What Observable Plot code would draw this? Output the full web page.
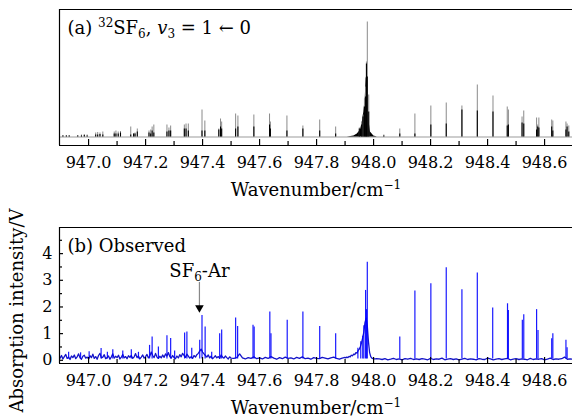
<!DOCTYPE html>
<html><head><meta charset="utf-8">
<script src="https://cdn.jsdelivr.net/npm/d3@7"></script>
<script src="https://cdn.jsdelivr.net/npm/@observablehq/plot@0.6"></script>
<style>
body{margin:0;background:#fff;overflow:hidden}
#wrap{position:relative;width:572px;height:417px;overflow:hidden}
#wrap svg{position:absolute;left:0;overflow:visible}
#wrap svg, #wrap svg text{font-family:"DejaVu Serif","Liberation Serif",serif !important}
</style></head><body><div id="wrap"></div>
<script>
// ---- axes ----
const xDomain = [946.898, 948.698];
const xTickValues = [947.0, 947.2, 947.4, 947.6, 947.8, 948.0, 948.2, 948.4, 948.6];
const xMinorTicks = [947.1, 947.3, 947.5, 947.7, 947.9, 948.1, 948.3, 948.5];
const yTickValues = [0, 1, 2, 3, 4];
const yMinorTicks = [0.5, 1.5, 2.5, 3.5, 4.5];
const xLabel = "Wavenumber/cm⁻¹";
const yLabel = "Absorption intensity/V";
const labelA = "(a) ³²SF₆, v₃ = 1 ← 0";
const labelB = "(b) Observed";
const labelAr = "SF₆-Ar";
const arWn = 947.389;

// ---- (a) calculated stick spectrum (relative intensity) ----
const calcWn = [946.910,946.922,946.932,946.962,946.975,946.985,946.995,947.025,947.032,947.040,947.050,947.090,947.096,947.104,947.112,947.148,947.158,947.163,947.171,947.212,947.218,947.223,947.229,947.275,947.282,947.288,947.336,947.342,947.350,947.398,947.408,947.457,947.463,947.467,947.516,947.524,947.580,947.635,947.638,947.696,947.752,947.811,947.867,948.036,948.092,948.145,948.201,948.255,948.310,948.364,948.419,948.469,948.473,948.521,948.527,948.572,948.576,948.580,948.625,948.629,948.675,948.679,948.685];
const calcGray = [1.5,1.5,1.5,1.5,2,2.5,2,4,4.5,4,5,5,6,5,5.5,10,3,4,8,6,7,10,12,12,9,11,12,13,13,27,16,8,18,15,23,21,22,23,15,21,11,17,10,2,8,23,31,34,31,52,41,30,27,20,26,19,12,19,17,16,15,13,11];
const calcBlack = [1,1,1,1,1,1.5,1,2,2,2.5,2,3,3,3,4,2,3,3,5,4,3,6,4,5,6,6,8,8,6,6,6,7,10,8,8,10,10,12,8,6,8,6,3,1,3,3,12,13,27,26,25,11,12,14,13,7,10,9,10,6,7,10,5];
const qCalcWn = [947.908,947.920,947.931,947.943,947.954,947.960,947.966,947.971,947.974,947.978,947.981,947.985,947.989,948.001,948.013];
const qCalcH = [0,0.5,1,3,7,14,25,40,60,55,30,14,5,1,0];
const qSpikeWn = [947.950,947.958,947.963,947.968,947.972,947.975,947.978,947.983];
const qSpikeGray = [9,15,22,38,50,75,115,42];
const qSpikeBlack = [8,12,20,30,40,73,60,25];

// ---- (b) observed spectrum (V) ----
const obsPeakWn = [946.930,946.972,947.002,947.044,947.066,947.085,947.120,947.150,947.175,947.214,947.223,947.245,947.275,947.288,947.302,947.337,947.345,947.362,947.390,947.398,947.409,947.432,947.460,947.467,947.516,947.523,947.577,947.581,947.636,947.640,947.697,947.752,947.811,947.867,947.945,947.955,947.962,947.966,947.972,947.975,947.978,948.092,948.145,948.201,948.255,948.310,948.364,948.418,948.470,948.473,948.522,948.527,948.572,948.577,948.625,948.629,948.675,948.679];
const obsPeakH = [0.30,0.28,0.32,0.44,0.30,0.40,0.35,0.40,0.30,0.56,0.87,0.50,0.92,0.82,0.35,1.02,1.06,0.45,0.75,1.68,1.25,0.30,1.00,1.14,1.59,1.27,1.31,1.25,1.81,1.00,1.50,1.81,1.27,1.00,0.45,0.70,0.90,1.30,2.62,1.90,3.68,0.87,2.60,2.87,3.47,2.65,3.27,1.96,2.12,1.87,1.50,1.71,1.90,1.12,0.81,1.00,0.75,0.47];
// baseline trace, sampled from 946.900 every 0.005
const obsNoiseA = [0.08,0.18,0.05,0.14,0.22,0.07,0.12,0.03,0.16,0.10,
 0.20,0.06,0.13,0.24,0.09,0.04,0.15,0.19,0.08,0.12,
 0.05,0.17,0.10,0.23,0.07,0.14,0.04,0.18,0.26,0.09,
 0.12,0.21,0.06,0.10,0.16,0.04,0.13,0.24,0.08,0.15,
 0.10,0.19,0.05,0.12,0.22,0.09,0.14,0.06,0.17,0.11,
 0.18,0.07,0.13,0.25,0.10,0.16,0.05,0.12,0.20,0.08,
 0.14,0.22,0.09,0.16,0.31,0.18,0.10,0.26,0.12,0.07,
 0.15,0.09,0.20,0.11,0.24,0.16,0.29,0.14,0.08,0.18,
 0.10,0.06,0.16,0.09,0.21,0.13,0.26,0.18,0.11,0.23,
 0.16,0.08,0.14,0.07,0.18,0.12,0.21,0.26,0.34,0.42,
 0.31,0.24,0.18,0.12,0.20,0.09,0.15,0.06,0.11,0.17,
 0.09,0.14,0.07,0.20,0.12,0.08,0.16,0.10,0.05,0.13,0.08];
// from 947.51 every 0.01
const obsNoiseB = [0.07,0.10,0.24,0.09,0.05,0.10,0.07,0.13,0.06,0.09,
 0.05,0.11,0.07,0.14,0.08,0.04,0.10,0.06,0.12,0.07,
 0.09,0.05,0.11,0.07,0.13,0.06,0.08,0.04,0.10,0.07,
 0.06,0.11,0.08,0.05,0.09,0.12,0.07,0.04,0.08,0.11];
// Q branch, from 947.902 every 0.004
const obsQ = [0.09,0.12,0.10,0.15,0.13,0.19,0.17,0.23,0.21,0.29,0.27,0.37,0.42,0.52,0.67,0.85,1.07,1.42,1.58,1.28,0.70,0.30,0.14,0.08,0.06,0.05,0.05,0.06];
// from 948.02 every 0.01
const obsNoiseC = [0.05,0.03,0.06,0.02,0.04,0.07,0.03,0.05,0.02,0.06,
 0.04,0.07,0.03,0.05,0.03,0.06,0.04,0.02,0.07,0.03,
 0.05,0.04,0.08,0.02,0.04,0.06,0.03,0.05,0.02,0.04,
 0.07,0.03,0.05,0.04,0.02,0.06,0.04,0.03,0.08,0.05,
 0.02,0.04,0.06,0.03,0.05,0.07,0.02,0.04,0.06,0.03,
 0.05,0.04,0.02,0.07,0.03,0.05,0.04,0.06,0.02,0.04,
 0.08,0.03,0.05,0.04,0.06,0.12,0.04,0.05,0.04];

// ---- tables ----
const calc = calcWn.map((wn, i) => ({wn, g: calcGray[i], b: calcBlack[i]}));
const qCalc = qCalcWn.map((wn, i) => ({wn, h: qCalcH[i]}));
const qSpikes = qSpikeWn.map((wn, i) => ({wn, g: qSpikeGray[i], b: qSpikeBlack[i]}));
const peaks = obsPeakWn.map((wn, i) => ({wn, h: obsPeakH[i]}));
const seg = (start, step, vals) => vals.map((y, i) => ({wn: start + i * step, y}));
const trace = [...seg(946.900, 0.005, obsNoiseA), ...seg(947.51, 0.01, obsNoiseB),
  ...seg(947.902, 0.004, obsQ), ...seg(948.02, 0.01, obsNoiseC)];

const FONT = "'DejaVu Serif', 'Liberation Serif', serif";
const fmt = d => d.toFixed(1);
const wrapEl = document.getElementById("wrap");

function frameMarks(yMin, yMax, x0) {
  return [
    Plot.ruleY([yMax], {stroke: "#000", strokeWidth: 1.2}),
    Plot.ruleY([yMin], {stroke: "#000", strokeWidth: 1.2}),
    Plot.ruleX([x0], {stroke: "#000", strokeWidth: 1.2}),
    Plot.tickX(xTickValues, {x: d => d, insetTop: 130, stroke: "#000", strokeWidth: 1.2}),
    Plot.tickX(xMinorTicks, {x: d => d, insetTop: 132, stroke: "#000", strokeWidth: 1.2}),
    Plot.axisX({ticks: xTickValues, tickFormat: fmt, tickSize: 0, tickPadding: 11, fontSize: 16, label: null}),
    Plot.text([xLabel], {frameAnchor: "bottom", dy: 50, lineAnchor: "bottom", fontSize: 18})
  ];
}

const chartA = Plot.plot({
  width: 572, height: 200, marginLeft: 59, marginRight: 0, marginTop: 9, marginBottom: 55,
  x: {domain: xDomain}, y: {domain: [-8.5, 127.5], axis: null},
  style: {fontFamily: FONT, color: "#000", background: "transparent"},
  marks: [
    Plot.ruleY([0], {stroke: "#bdbdbd", strokeWidth: 1.5}),
    Plot.ruleX(calc, {x: "wn", y1: 0, y2: "g", stroke: "#8a8a8a", strokeWidth: 1}),
    Plot.ruleX(calc, {x: "wn", y1: 0, y2: "b", stroke: "#000", strokeWidth: 1.1}),
    Plot.areaY(qCalc, {x: "wn", y: "h", fill: "#000"}),
    Plot.ruleX(qSpikes, {x: "wn", y1: 0, y2: "g", stroke: "#8a8a8a", strokeWidth: 1}),
    Plot.ruleX(qSpikes, {x: "wn", y1: 0, y2: "b", stroke: "#000", strokeWidth: 1.1}),
    ...frameMarks(-8.5, 127.5, xDomain[0]),
    Plot.text([labelA], {frameAnchor: "top-left", dx: 8, dy: 24, lineAnchor: "bottom", textAnchor: "start", fontSize: 18})
  ]
});
chartA.style.top = "0px";
wrapEl.appendChild(chartA);

const chartB = Plot.plot({
  width: 572, height: 217, marginLeft: 59, marginRight: 0, marginTop: 27, marginBottom: 54,
  x: {domain: xDomain}, y: {domain: [-0.12, 4.98]},
  style: {fontFamily: FONT, color: "#000", background: "transparent"},
  marks: [
    Plot.line(trace, {x: "wn", y: "y", stroke: "#1414c8", strokeWidth: 1.3, clip: true}),
    Plot.ruleX(peaks, {x: "wn", y1: 0.05, y2: "h", stroke: "#0000ff", strokeWidth: 1.2, strokeOpacity: 0.9}),
    ...frameMarks(-0.12, 4.98, xDomain[0]),
    Plot.tickY(yTickValues, {y: d => d, insetRight: 509, stroke: "#000", strokeWidth: 1.2}),
    Plot.tickY(yMinorTicks, {y: d => d, insetRight: 510, stroke: "#000", strokeWidth: 1.2}),
    Plot.axisY({ticks: yTickValues, tickFormat: d => String(d), tickSize: 0, tickPadding: 7, fontSize: 16, label: null}),
    Plot.text([yLabel], {frameAnchor: "left", dx: -42, dy: 15, rotate: -90, textAnchor: "middle", fontSize: 18}),
    Plot.text([labelB], {frameAnchor: "top-left", dx: 8, dy: 24, lineAnchor: "bottom", textAnchor: "start", fontSize: 18}),
    Plot.text([labelAr], {x: [arWn], y: [3.14], lineAnchor: "bottom", fontSize: 18}),
    Plot.ruleX([arWn], {y1: 2.92, y2: 2.0, stroke: "#888", strokeWidth: 1.2}),
    Plot.dot([arWn], {x: d => d, y: [1.97], symbol: "triangle", r: 3.2, rotate: 180, fill: "#000", stroke: "none"})
  ]
});
chartB.style.top = "200px";
wrapEl.appendChild(chartB);

// rich text (super/subscripts, italics)
function rich(svg, plain, parts) {
  d3.select(svg).selectAll("text").filter(function () { return this.textContent === plain; }).each(function () {
    const t = d3.select(this);
    t.text(null);
    let shift = 0;
    for (const [s, k] of parts) {
      const ts = t.append("tspan").text(s);
      const target = k === "sup" ? -7 : k === "sub" ? 4 : 0;
      if (target !== shift) { ts.attr("dy", target - shift); shift = target; }
      if (k === "sup" || k === "sub") ts.attr("font-size", "12px");
      if (k === "it") ts.attr("font-style", "italic");
    }
  });
}
rich(chartA, labelA, [["(a) ", ""], ["32", "sup"], ["SF", ""], ["6", "sub"], [", ", ""], ["v", "it"], ["3", "sub"], [" = 1 ← 0", ""]]);
rich(chartB, labelAr, [["SF", ""], ["6", "sub"], ["-Ar", ""]]);
for (const svg of [chartA, chartB]) rich(svg, xLabel, [["Wavenumber/cm", ""], ["−1", "sup"]]);
</script>
</body></html>
